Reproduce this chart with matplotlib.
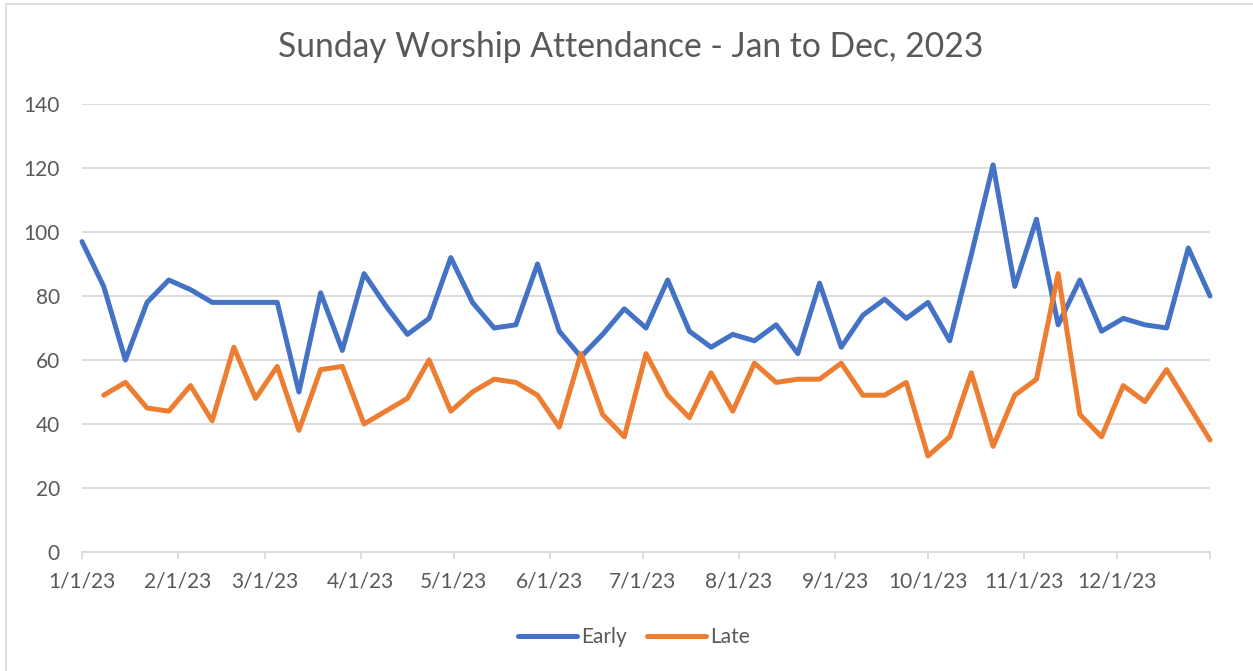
import matplotlib.pyplot as plt
import matplotlib.patches as mpatches
import numpy as np
import pandas as pd

# Weekly Sunday attendance, 2023
dates = pd.date_range('2023-01-01', periods=53, freq='7D')
early = [97, 83, 60, 78, 85, 82, 78, 78, 78, 78, 50, 81, 63, 87, 77, 68, 73, 92,
         78, 70, 71, 90, 69, 61, 68, 76, 70, 85, 69, 64, 68, 66, 71, 62, 84, 64,
         74, 79, 73, 78, 66, 93, 121, 83, 104, 71, 85, 69, 73, 71, 70, 95, 80]
late = [np.nan, 49, 53, 45, 44, 52, 41, 64, 48, 58, 38, 57, 58, 40, 44, 48, 60, 44,
        50, 54, 53, 49, 39, 62, 43, 36, 62, 49, 42, 56, 44, 59, 53, 54, 54, 59,
        49, 49, 53, 30, 36, 56, 33, 49, 54, 87, 43, 36, 52, 47, 57, 46, 35]
series_names = ['Early', 'Late']
series_colors = ['#4472C4', '#ED7D31']
title = 'Sunday Worship Attendance - Jan to Dec, 2023'
y_ticks = [0, 20, 40, 60, 80, 100, 120, 140]

plt.rcParams['font.family'] = ['Lato', 'DejaVu Sans']
text_color = '#595959'
grid_color = '#d9d9d9'

W, H = 1253, 671
fig = plt.figure(figsize=(W / 100, H / 100), dpi=100)
ax = fig.add_axes([82 / W, 1 - 552 / H, (1210 - 82) / W, (552 - 104) / H])

for vals, name, col in zip([early, late], series_names, series_colors):
    ax.plot(dates, vals, color=col, lw=3.6, label=name, clip_on=False,
            solid_joinstyle='round', solid_capstyle='round')

# x axis: month starts, plus a bare tick at the axis end
month_starts = pd.date_range('2023-01-01', '2023-12-01', freq='MS')
x_ticks = list(month_starts) + [dates[-1]]
x_labels = [f'{d.month}/{d.day}/{d:%y}' for d in month_starts] + ['']
ax.set_xlim(dates[0], dates[-1])
ax.set_xticks(x_ticks)
ax.set_xticklabels(x_labels)

ax.set_ylim(0, 140)
ax.set_yticks(y_ticks)
ax.yaxis.grid(True, color=grid_color, lw=1.3)
ax.set_axisbelow(True)

for side in ['top', 'right', 'left']:
    ax.spines[side].set_visible(False)
ax.spines['bottom'].set_color(grid_color)
ax.spines['bottom'].set_linewidth(1.3)

ax.tick_params(axis='x', colors=grid_color, labelcolor=text_color, length=5,
               width=1.3, pad=9, labelsize=15)
ax.tick_params(axis='y', length=0, pad=16, labelcolor=text_color, labelsize=15)

fig.text(631 / W, 1 - 47 / H, title, ha='center', va='center', fontsize=24.2,
         color=text_color)

fig.legend(loc='center', bbox_to_anchor=(634 / W, 1 - 637 / H), ncol=2,
           frameon=False, fontsize=15, handlelength=2.8, handletextpad=0.2,
           columnspacing=1.0, labelcolor=text_color)

# chart area border (left/top edges visible in the crop)
fig.patches.append(mpatches.Rectangle((6 / W, -0.1), 1.2, 1 - 4 / H + 0.1,
                                      transform=fig.transFigure, fill=False,
                                      edgecolor=grid_color, lw=1.2))

fig.savefig('out.png', dpi=100)
